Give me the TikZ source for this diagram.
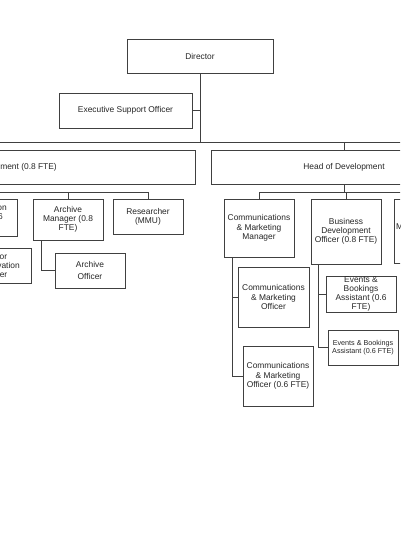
\documentclass[tikz,border=0pt]{standalone}
\usepackage{fontspec}
\setmainfont{Liberation Sans}
\begin{document}
\begin{tikzpicture}[x=1pt,y=-1pt,
  box/.style={draw=black!75, line width=0.8pt, inner sep=0pt, align=center,
    font=\fontsize{8.4}{9.3}\selectfont, text=black!85, fill=white},
  lbl/.style={inner sep=0pt, align=center, font=\fontsize{8.4}{9.3}\selectfont, text=black!85},
  conn/.style={draw=black!75, line width=0.8pt}]
\useasboundingbox (0,0) rectangle (400,535);
\clip (0,0) rectangle (400,535);
% top
\node[box, minimum width=146pt, minimum height=34pt] (dir) at (200,56) {Director};
\node[box, minimum width=133pt, minimum height=35pt] (eso) at (125.5,110.5) {Executive Support Officer};
\coordinate (trunk) at (200,142);
\coordinate (lend) at (-20,142);
\coordinate (rend) at (420,142);
\coordinate (hodtop) at (344,142);
\draw[conn] (dir.south) -- (trunk);
\draw[conn] (eso.east) -- (eso.east -| trunk);
\draw[conn] (lend) -- (rend);
% heads
\node[box, minimum width=300pt, minimum height=34pt] (hcm) at (45,167) {};
\node[lbl, anchor=east] (hcmt) at (57,167) {Head of Collections Management (0.8 FTE)};
\node[box, minimum width=266pt, minimum height=34pt] (hod) at (344,167) {Head of Development};
\draw[conn] (hodtop) -- (hod.north);
% left branch
\coordinate (lbar) at (-30,192);
\coordinate (lbarr) at (148,192);
\node[box, minimum width=70pt, minimum height=37pt] (con) at (-18,217.5) {Conservation\\Officer (0.6\\FTE)};
\node[box, minimum width=72pt, minimum height=35pt] (scon) at (-5,265.5) {Senior\\Conservation\\Officer};
\node[box, minimum width=70pt, minimum height=41pt] (am) at (68,219.5) {Archive\\Manager (0.8\\FTE)};
\node[box, minimum width=70pt, minimum height=35pt] (res) at (148,216.5) {Researcher\\(MMU)};
\node[box, minimum width=70pt, minimum height=35pt, font=\fontsize{8.4}{12}\selectfont] (ao) at (90,270.5) {Archive\\Officer};
\draw[conn] (lbar) -- (lbarr) -- (res.north);
\draw[conn] (am.north |- lbar) -- (am.north);
\draw[conn] (con.north |- lbar) -- (con.north);
\coordinate (amb) at (41,240);
\draw[conn] (amb) |- (ao.west);
% right branch
\coordinate (rbar) at (344,192);
\coordinate (rbarl) at (259,192);
\coordinate (rbarr) at (420,192);
\node[box, minimum width=70pt, minimum height=58pt] (cmm) at (259,228) {Communications\\\& Marketing\\Manager};
\node[box, minimum width=70pt, minimum height=65pt] (bdo) at (346,231.5) {Business\\Development\\Officer (0.8 FTE)};
\node[box, minimum width=70pt, minimum height=64pt] (mem) at (429,231) {};
\node[lbl, anchor=west] (memt) at (396,227) {Membership};
\draw[conn] (hod.south) -- (rbar);
\draw[conn] (rbarl) -- (rbarr);
\draw[conn] (rbarl) -- (cmm.north);
\draw[conn] (bdo.north |- rbar) -- (bdo.north);
\draw[conn] (mem.north |- rbar) -- (mem.north);
\node[box, minimum width=71pt, minimum height=60pt] (cmo) at (273.5,297) {Communications\\\& Marketing\\Officer};
\node[box, minimum width=70pt, minimum height=60pt] (cmo6) at (278,376) {Communications\\\& Marketing\\Officer (0.6 FTE)};
\coordinate (cmmb) at (232,257);
\draw[conn] (cmmb) |- (cmo6.west);
\draw[conn] (cmmb |- cmo.west) -- (cmo.west);
\node[box, minimum width=70pt, minimum height=36pt] (eba1) at (361,294) {Events \&\\Bookings\\Assistant (0.6\\FTE)};
\node[box, minimum width=70pt, minimum height=35pt, font=\fontsize{7.2}{8.2}\selectfont] (eba2) at (363,347.5) {Events \& Bookings\\Assistant (0.6 FTE)};
\coordinate (bdob) at (318,264);
\draw[conn] (bdob) |- (eba2.west);
\draw[conn] (bdob |- eba1.west) -- (eba1.west);
\end{tikzpicture}
\end{document}
